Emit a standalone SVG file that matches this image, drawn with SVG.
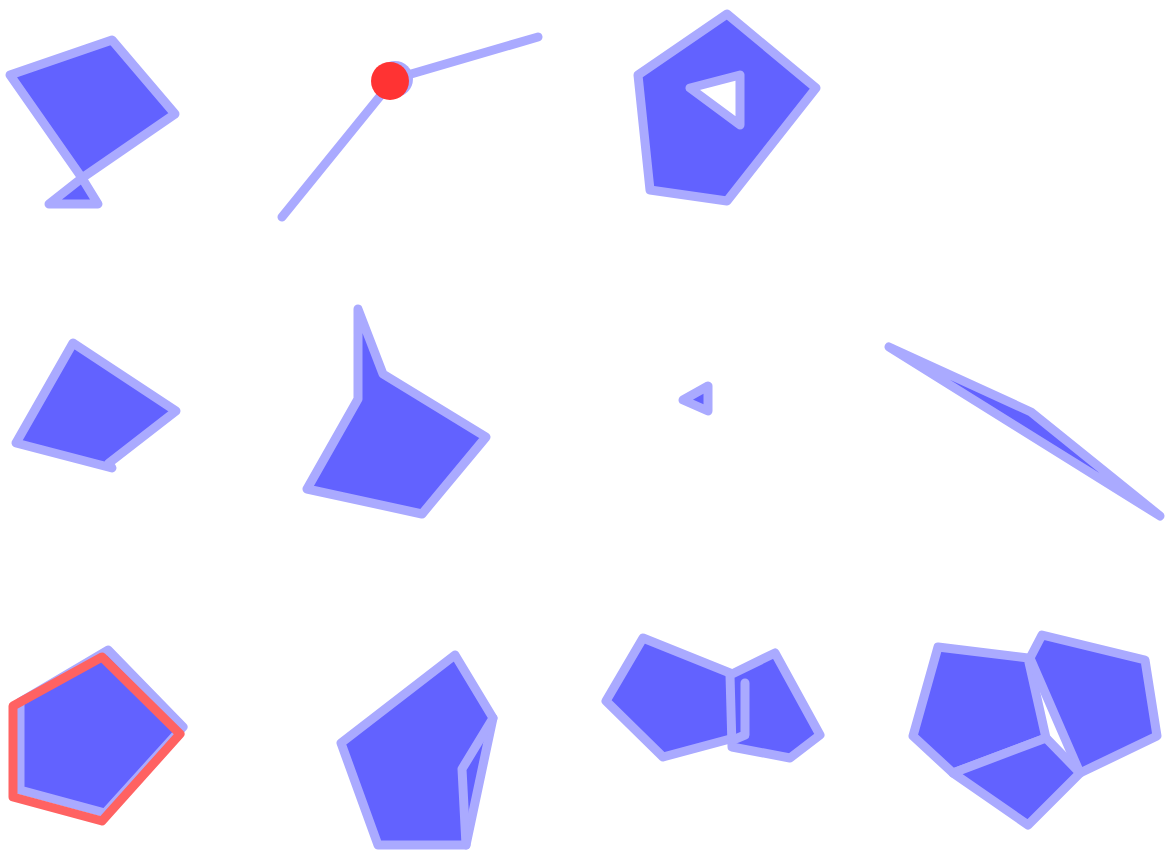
<svg xmlns="http://www.w3.org/2000/svg" width="1166" height="853" viewBox="0 0 1166 853">
<style>
.s{fill:#6262ff;stroke:#aaaaff;stroke-width:9;stroke-linejoin:round;stroke-linecap:round}
.l{fill:none;stroke:#aaaaff;stroke-width:9;stroke-linejoin:round;stroke-linecap:round}
.r{fill:none;stroke:#ff6262;stroke-width:9;stroke-linejoin:round;stroke-linecap:round}
</style>
<rect width="1166" height="853" fill="#ffffff"/>
<g id="shape1">
<polygon class="s" points="10,75 112,40 175,114 82,178 98,204 49,204 82,178"/>
</g>
<g id="shape2">
<polyline class="l" points="282,217 394,79 538,37"/>
<circle cx="395" cy="79" r="18" fill="#aaaaff"/>
<circle cx="390" cy="81" r="19" fill="#ff3333"/>
</g>
<g id="shape3">
<path class="s" fill-rule="evenodd" d="M727,14 L816,88 L727,201 L650,190 L638,75 Z M690,88 L740,75 L740,125 Z"/>
</g>
<g id="shape4">
<polygon class="s" points="73,343 176,411 109,463 112,468 16,443"/>
</g>
<g id="shape5">
<polygon class="s" points="358,309 383,374 486,437 422,514 307,489 358,399"/>
</g>
<g id="shape6">
<polygon class="s" points="683,400 708,386 708,411"/>
</g>
<g id="shape7">
<polygon class="s" points="889,347 1031,412 1160,516"/>
</g>
<g id="shape8">
<polygon class="s" points="108,650 183,727 105,813 20,790 20,702"/>
<polygon class="r" points="102,657 180,734 102,821 13,797 13,706"/>
</g>
<g id="shape9">
<polygon class="s" points="455,655 493,718 466,845 378,845 341,743"/>
<polyline class="l" points="493,718 462,769 466,845"/>
</g>
<g id="shape10">
<polygon class="s" points="643,638 730,673 745,683 745,735 663,757 606,701"/>
<polygon class="s" points="775,653 820,735 790,758 732,747 730,675"/>
<polyline class="l" points="745,683 745,735 733,740"/>
</g>
<g id="shape11">
<polygon class="s" points="938,647 1028,658 1046,738 953,773 913,736"/>
<polygon class="s" points="1042,635 1145,660 1157,736 1080,773 1030,658"/>
<polygon class="s" points="953,773 1046,738 1080,773 1028,825"/>
</g>
</svg>
